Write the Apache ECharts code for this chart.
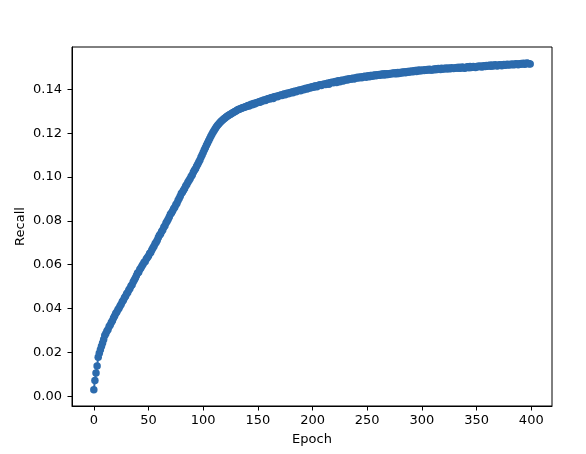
<!DOCTYPE html>
<html>
<head>
<meta charset="utf-8">
<script src="https://cdn.jsdelivr.net/npm/echarts@6/dist/echarts.min.js"></script>
<style>
html,body{margin:0;padding:0;background:#fff;}
#chart{width:586px;height:454px;}
</style>
</head>
<body>
<div id="chart"></div>
<script>
var xTicks = [0, 50, 100, 150, 200, 250, 300, 350, 400];
var yTicks = [0, 0.02, 0.04, 0.06, 0.08, 0.10, 0.12, 0.14];
var xName = 'Epoch';
var yName = 'Recall';
var recall = [
0.0030, 0.0072, 0.0106, 0.0138, 0.0178, 0.0196, 0.0212, 0.0228, 0.0243, 0.0259,
0.0277, 0.0286, 0.0298, 0.0305, 0.0318, 0.0325, 0.0336, 0.0344, 0.0357, 0.0366,
0.0378, 0.0384, 0.0395, 0.0401, 0.0412, 0.0420, 0.0431, 0.0438, 0.0449, 0.0456,
0.0468, 0.0473, 0.0485, 0.0492, 0.0503, 0.0509, 0.0521, 0.0530, 0.0539, 0.0551,
0.0562, 0.0566, 0.0578, 0.0585, 0.0594, 0.0602, 0.0611, 0.0615, 0.0626, 0.0633,
0.0640, 0.0651, 0.0656, 0.0667, 0.0676, 0.0684, 0.0696, 0.0703, 0.0712, 0.0724,
0.0735, 0.0740, 0.0752, 0.0759, 0.0771, 0.0778, 0.0790, 0.0799, 0.0808, 0.0818,
0.0830, 0.0836, 0.0845, 0.0856, 0.0862, 0.0874, 0.0881, 0.0893, 0.0902, 0.0912,
0.0925, 0.0931, 0.0940, 0.0948, 0.0959, 0.0966, 0.0976, 0.0984, 0.0992, 0.1003,
0.1010, 0.1022, 0.1031, 0.1038, 0.1049, 0.1058, 0.1069, 0.1078, 0.1090, 0.1101,
0.1112, 0.1123, 0.1134, 0.1145, 0.1156, 0.1166, 0.1176, 0.1186, 0.1195, 0.1204,
0.1212, 0.1220, 0.1228, 0.1235, 0.1241, 0.1247, 0.1252, 0.1257, 0.1262, 0.1266,
0.1270, 0.1274, 0.1277, 0.1281, 0.1284, 0.1287, 0.1290, 0.1293, 0.1296, 0.1299,
0.1302, 0.1305, 0.1308, 0.1309, 0.1312, 0.1314, 0.1316, 0.1318, 0.1320, 0.1321,
0.1323, 0.1327, 0.1324, 0.1329, 0.1332, 0.1330, 0.1336, 0.1333, 0.1338, 0.1339,
0.1340, 0.1344, 0.1341, 0.1347, 0.1346, 0.1350, 0.1352, 0.1349, 0.1355, 0.1356,
0.1358, 0.1356, 0.1362, 0.1363, 0.1359, 0.1366, 0.1366, 0.1369, 0.1366, 0.1371,
0.1372, 0.1375, 0.1372, 0.1377, 0.1379, 0.1376, 0.1381, 0.1383, 0.1380, 0.1385,
0.1385, 0.1388, 0.1385, 0.1390, 0.1392, 0.1389, 0.1394, 0.1395, 0.1397, 0.1394,
0.1398, 0.1401, 0.1398, 0.1403, 0.1405, 0.1402, 0.1407, 0.1409, 0.1406, 0.1411,
0.1412, 0.1410, 0.1415, 0.1416, 0.1412, 0.1418, 0.1419, 0.1421, 0.1418, 0.1422,
0.1422, 0.1425, 0.1422, 0.1427, 0.1428, 0.1424, 0.1430, 0.1431, 0.1433, 0.1430,
0.1434, 0.1436, 0.1432, 0.1438, 0.1439, 0.1435, 0.1441, 0.1442, 0.1438, 0.1443,
0.1443, 0.1446, 0.1443, 0.1447, 0.1449, 0.1446, 0.1450, 0.1451, 0.1447, 0.1452,
0.1452, 0.1455, 0.1452, 0.1456, 0.1457, 0.1453, 0.1458, 0.1459, 0.1460, 0.1456,
0.1460, 0.1462, 0.1458, 0.1463, 0.1464, 0.1460, 0.1465, 0.1466, 0.1462, 0.1467,
0.1465, 0.1468, 0.1465, 0.1469, 0.1470, 0.1466, 0.1471, 0.1467, 0.1472, 0.1468,
0.1470, 0.1473, 0.1470, 0.1474, 0.1475, 0.1471, 0.1476, 0.1472, 0.1477, 0.1473,
0.1475, 0.1478, 0.1475, 0.1479, 0.1480, 0.1476, 0.1481, 0.1482, 0.1478, 0.1483,
0.1481, 0.1484, 0.1481, 0.1485, 0.1486, 0.1482, 0.1487, 0.1484, 0.1488, 0.1485,
0.1486, 0.1489, 0.1486, 0.1490, 0.1487, 0.1491, 0.1488, 0.1492, 0.1489, 0.1488,
0.1490, 0.1493, 0.1490, 0.1494, 0.1491, 0.1495, 0.1492, 0.1491, 0.1496, 0.1493,
0.1493, 0.1496, 0.1497, 0.1493, 0.1498, 0.1495, 0.1494, 0.1499, 0.1496, 0.1495,
0.1496, 0.1499, 0.1500, 0.1496, 0.1501, 0.1497, 0.1499, 0.1502, 0.1499, 0.1497,
0.1499, 0.1502, 0.1503, 0.1499, 0.1504, 0.1500, 0.1502, 0.1505, 0.1502, 0.1500,
0.1503, 0.1506, 0.1503, 0.1507, 0.1505, 0.1502, 0.1507, 0.1508, 0.1504, 0.1509,
0.1506, 0.1509, 0.1510, 0.1506, 0.1511, 0.1507, 0.1509, 0.1512, 0.1509, 0.1507,
0.1510, 0.1513, 0.1511, 0.1508, 0.1513, 0.1514, 0.1510, 0.1512, 0.1515, 0.1511,
0.1512, 0.1515, 0.1512, 0.1516, 0.1512, 0.1514, 0.1517, 0.1515, 0.1512, 0.1517,
0.1515, 0.1518, 0.1516, 0.1519, 0.1515, 0.1517, 0.1520, 0.1518, 0.1517, 0.1516
];

var seriesData = recall.map(function (v, i) { return [i, v]; });
var font = 'DejaVu Sans';

var chart = echarts.init(document.getElementById('chart'), null, {renderer: 'canvas'});
chart.setOption({
  animation: false,
  backgroundColor: '#ffffff',
  grid: {
    left: 72, right: 34, top: 47, bottom: 48,
    show: true, borderColor: '#000', borderWidth: 1, backgroundColor: 'transparent'
  },
  xAxis: {
    type: 'value',
    min: -19.95, max: 418.95,
    name: xName, nameLocation: 'middle', nameGap: 27, nameMoveOverlap: false,
    nameTextStyle: {fontFamily: font, fontSize: 13, color: '#000'},
    axisLine: {show: true, onZero: false, lineStyle: {color: '#000', width: 1}},
    axisTick: {show: true, inside: false, length: 4.5, lineStyle: {color: '#000', width: 1}, customValues: xTicks},
    axisLabel: {fontFamily: font, fontSize: 13, color: '#000', margin: 8, customValues: xTicks},
    splitLine: {show: false}
  },
  yAxis: {
    type: 'value',
    min: -0.00445, max: 0.15935,
    name: yName, nameLocation: 'middle', nameGap: 45, nameRotate: 90, nameMoveOverlap: false,
    nameTextStyle: {fontFamily: font, fontSize: 13, color: '#000'},
    axisLine: {show: true, onZero: false, lineStyle: {color: '#000', width: 1}},
    axisTick: {show: true, inside: false, length: 4.5, lineStyle: {color: '#000', width: 1}, customValues: yTicks},
    axisLabel: {fontFamily: font, fontSize: 13, color: '#000', margin: 10, customValues: yTicks,
      formatter: function (v) { return v.toFixed(2); }},
    splitLine: {show: false}
  },
  series: [{
    type: 'line',
    data: seriesData,
    showAllSymbol: true,
    symbol: 'circle',
    symbolSize: 7.5,
    lineStyle: {color: '#2c6bad', width: 2},
    itemStyle: {color: '#2c6bad', borderWidth: 0},
    emphasis: {disabled: true}
  }]
});
</script>
</body>
</html>
